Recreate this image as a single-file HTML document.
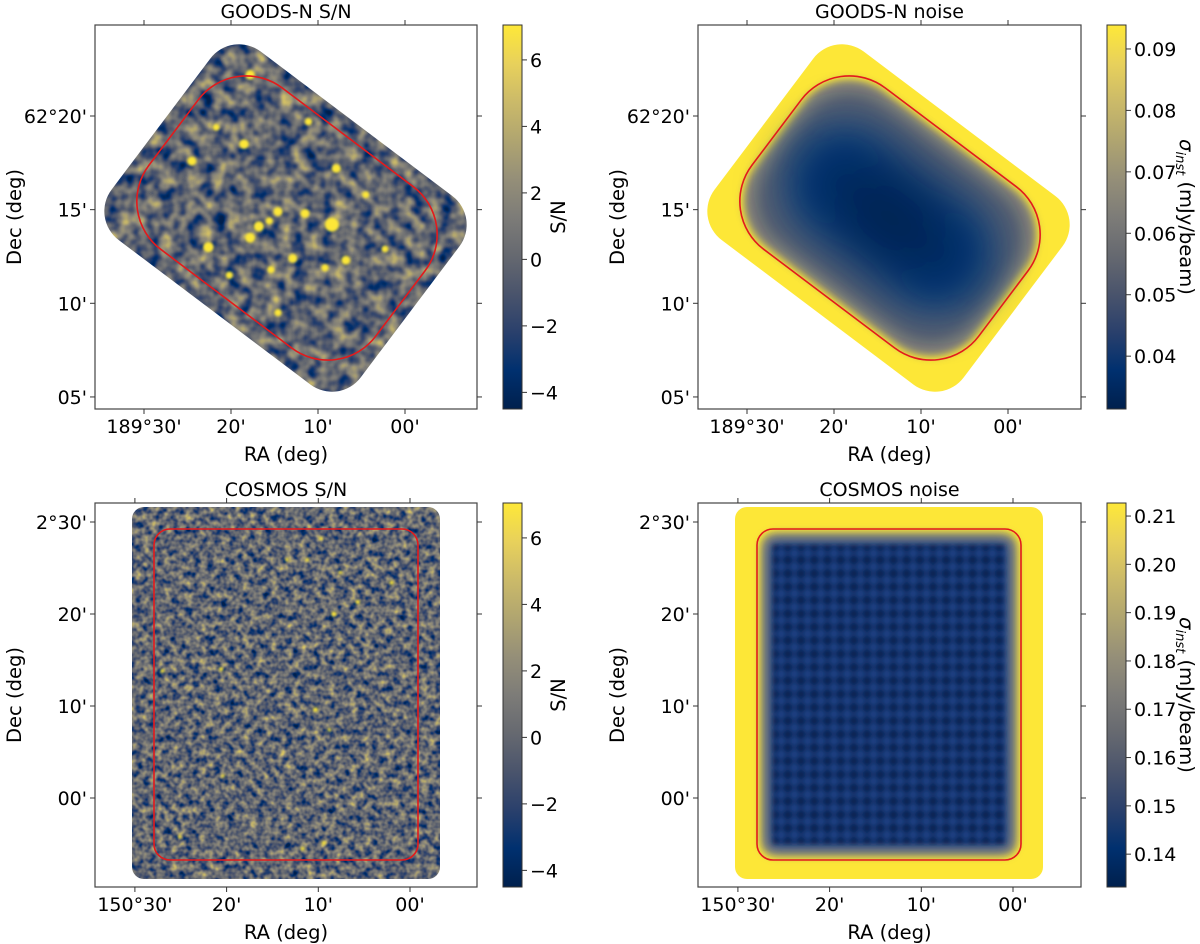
<!DOCTYPE html>
<html><head><meta charset="utf-8"><style>
html,body{margin:0;padding:0;background:#fff}
svg{display:block}
text{font-family:"DejaVu Sans","Liberation Sans",sans-serif;fill:#000}
</style></head><body>
<svg id="fig" width="1200" height="944" viewBox="0 0 1200 944" xmlns="http://www.w3.org/2000/svg">
<defs id="defs"></defs>
</svg>
<script>
// ---------- data ----------
const snTicks = [6, 4, 2, 0, -2, -4];
const snRange = [-4.5, 7.05];
const goodsNoiseTicks = [0.09, 0.08, 0.07, 0.06, 0.05, 0.04];
const goodsNoiseRange = [0.0314, 0.0939];
const cosmosNoiseTicks = [0.21, 0.20, 0.19, 0.18, 0.17, 0.16, 0.15, 0.14];
const cosmosNoiseRange = [0.1332, 0.2127];
const goodsRaTicks = [30, 20, 10, 0];
const goodsRaLabels = ["189°30'", "20'", "10'", "00'"];
const goodsDecTicks = [20, 15, 10, 5];
const goodsDecLabels = ["62°20'", "15'", "10'", "05'"];
const cosmosRaTicks = [30, 20, 10, 0];
const cosmosRaLabels = ["150°30'", "20'", "10'", "00'"];
const cosmosDecTicks = [30, 20, 10, 0];
const cosmosDecLabels = ["2°30'", "20'", "10'", "00'"];
// GOODS-N detected sources (arcmin offsets from 189°00', 62°00'), S/N
const goodsSrcRa  = [17.8,18.5,24.5,7.9,21.7,11.1,8.4,14.6,11.5,16.8,17.8,15.6,22.6,12.9,6.8,9.2,15.4,20.2,14.6,4.5,2.3];
const goodsSrcDec = [22.2,18.5,17.6,17.2,19.4,19.7,14.2,14.9,14.8,14.1,13.5,14.4,13.0,12.4,12.3,11.9,11.8,11.5,9.5,15.8,12.9];
const goodsSrcSN  = [12,12,11,11,7,8,20,11,11,13,13,8,13,11,11,8,8,8,8,7,7];
// COSMOS detected sources (arcmin offsets from 150°00', 2°00')
const cosmosSrcRa  = [8.3,10.3,20.6,2.0,5.7,9.4,11.7,13.4,11.2,9.7,7.6,27.0,25.1,20.4,8.8];
const cosmosSrcDec = [20.0,9.6,14.0,23.4,21.3,-4.9,-5.5,25.9,25.9,28.2,24.5,13.8,-4.2,2.4,7.4];
const cosmosSrcSN  = [10,9,8,8,8,8,7,6,6,6,6,7,6,6,6];

// ---------- helpers ----------
const NS = "http://www.w3.org/2000/svg";
const svg = document.getElementById('fig');
const defs = document.getElementById('defs');
function mk(tag, attrs, parent) {
  const e = document.createElementNS(NS, tag);
  for (const k in attrs) e.setAttribute(k, attrs[k]);
  (parent || svg).appendChild(e);
  return e;
}
const civStops = [[0,'#00204d'],[0.1,'#00306f'],[0.2,'#2a406c'],[0.3,'#4a546c'],[0.4,'#666970'],[0.5,'#7d7c78'],[0.6,'#958f78'],[0.7,'#b0a570'],[0.8,'#cbba69'],[0.9,'#e8d15b'],[1,'#fee838']];
function hex2rgb(h){return [parseInt(h.substr(1,2),16),parseInt(h.substr(3,2),16),parseInt(h.substr(5,2),16)];}
function civ(t){t=Math.max(0,Math.min(1,t));for(let i=1;i<civStops.length;i++){if(t<=civStops[i][0]){const a=civStops[i-1],b=civStops[i];const f=(t-a[0])/(b[0]-a[0]);const ca=hex2rgb(a[1]),cb=hex2rgb(b[1]);return ca.map((v,j)=>v+(cb[j]-v)*f);}}return hex2rgb(civStops[civStops.length-1][1]);}

const lg = mk('linearGradient',{id:'civ',x1:0,y1:1,x2:0,y2:0},defs);
civStops.forEach(s=>mk('stop',{offset:s[0],'stop-color':s[1]},lg));

function noiseFilter(id, freq, seed, gain) {
  const f = mk('filter',{id:id,x:0,y:0,width:1,height:1,'color-interpolation-filters':'sRGB'},defs);
  mk('feTurbulence',{type:'fractalNoise',baseFrequency:freq,numOctaves:2,seed:seed},f);
  mk('feColorMatrix',{type:'matrix',values:'1 0 0 0 0 1 0 0 0 0 1 0 0 0 0 0 0 0 0 1'},f);
  const ct = mk('feComponentTransfer',{},f);
  const R=[],G=[],B=[];
  for(let i=0;i<=40;i++){const v=i/40;const c=civ(0.39+(v-0.5)*gain);R.push((c[0]/255).toFixed(3));G.push((c[1]/255).toFixed(3));B.push((c[2]/255).toFixed(3));}
  mk('feFuncR',{type:'table',tableValues:R.join(' ')},ct);
  mk('feFuncG',{type:'table',tableValues:G.join(' ')},ct);
  mk('feFuncB',{type:'table',tableValues:B.join(' ')},ct);
}
noiseFilter('nzG','0.075',3,1.15);
noiseFilter('nzC','0.14',7,1.15);
const bl = (id,s)=>{const f=mk('filter',{id:id,x:'-30%',y:'-30%',width:'160%',height:'160%'},defs);mk('feGaussianBlur',{stdDeviation:s},f);};
bl('b2',1.2); bl('b8',8); bl('b20',20); bl('b3',2.5); bl('b4',4); bl('b6',6);
const rg = mk('radialGradient',{id:'gcore',cx:0.5,cy:0.5,r:0.5},defs);
mk('stop',{offset:0,'stop-color':'#00204d'},rg);
mk('stop',{offset:0.6,'stop-color':'#022a60'},rg);
mk('stop',{offset:1,'stop-color':'#093a7c'},rg);
const pat = mk('pattern',{id:'cgrid',width:13.2,height:13.4,patternUnits:'userSpaceOnUse',x:768,y:540},defs);
const prg = mk('radialGradient',{id:'cell',cx:0.5,cy:0.5,r:0.6},defs);
mk('stop',{offset:0,'stop-color':'#061a3e'},prg);
mk('stop',{offset:0.5,'stop-color':'#0b275c'},prg);
mk('stop',{offset:1,'stop-color':'#22478c'},prg);
mk('rect',{x:0,y:0,width:13.2,height:13.4,fill:'url(#cell)'},pat);

function goodsOuter(dx){return {x:285.5+dx-156,y:218-118,w:312,h:236,r:36,cx:285.5+dx,cy:218};}
function goodsRed(dx){return {x:287+dx-142,y:218-101,w:284,h:202,r:60,cx:287+dx,cy:218};}
function rrect(p,attrs,parent,rot){const a=Object.assign({x:p.x,y:p.y,width:p.w,height:p.h,rx:p.r},attrs);if(rot!==undefined)a.transform=`rotate(${rot} ${p.cx} ${p.cy})`;return mk('rect',a,parent);}

const panels = [
 {name:'goods-sn',title:'GOODS-N S/N',x0:95,x1:477,y0:25,y1:409,kind:'goods',cb:'sn'},
 {name:'goods-noise',title:'GOODS-N noise',x0:698,x1:1081,y0:25,y1:409,kind:'goods',cb:'gn'},
 {name:'cosmos-sn',title:'COSMOS S/N',x0:95,x1:477,y0:503,y1:887,kind:'cosmos',cb:'sn'},
 {name:'cosmos-noise',title:'COSMOS noise',x0:698,x1:1081,y0:503,y1:887,kind:'cosmos',cb:'cn'}
];
function goodsX(dx){return ra=>405+dx-ra*8.7;}
function goodsY(dec){return 116+(20-dec)*18.73;}
function cosmosX(dx){return ra=>410+dx-ra*9.17;}
function cosmosY(dec){return 798-dec*9.2;}
const TF=19, LF=19.5, TTF=19;

panels.forEach(P=>{
  const g = mk('g',{});
  
  
  const dx = P.x0-95;
  const img = mk('g',{},g);
  
  
  const clipId='clip-'+P.name;
  const cp = mk('clipPath',{id:clipId},defs);
  let xs, ys;
  if(P.kind==='goods'){
    xs=goodsX(dx); ys=goodsY;
    const o=goodsOuter(dx);
    rrect(o,{},cp,37);
    const red=goodsRed(dx);
    if(P.cb==='sn'){
      mk('rect',{x:P.x0,y:P.y0,width:P.x1-P.x0,height:P.y1-P.y0,filter:'url(#nzG)','clip-path':`url(#${clipId})`},img);
      const sg=mk('g',{filter:'url(#b2)','clip-path':`url(#${clipId})`},img);
      goodsSrcSN.forEach((s,i)=>{
        const c=mk('circle',{cx:xs(goodsSrcRa[i]),cy:ys(goodsSrcDec[i]),r:1.5+s*0.28,fill:'#fde737'},sg);
        
        
      });
    } else {
      const cg=mk('g',{'clip-path':`url(#${clipId})`},img);
      mk('rect',{x:P.x0,y:P.y0,width:P.x1-P.x0,height:P.y1-P.y0,fill:'#fde737'},cg);
      const inner={x:red.x+4,y:red.y+4,w:red.w-8,h:red.h-8,r:56,cx:red.cx,cy:red.cy};
      rrect(inner,{fill:'#8a8779',filter:'url(#b4)'},cg,37);
      const in2={x:red.x+14,y:red.y+14,w:red.w-28,h:red.h-28,r:50,cx:red.cx,cy:red.cy};
      rrect(in2,{fill:'#5a6070',filter:'url(#b8)'},cg,37);
      const core={x:red.cx-118,y:red.cy-62,w:236,h:124,r:60,cx:red.cx,cy:red.cy};
      rrect(core,{fill:'url(#gcore)',filter:'url(#b20)'},cg,37);
    }
    const rc=rrect(red,{fill:'none',stroke:'#e31a1c','stroke-width':1.6},img,37);
    
    
  } else {
    xs=cosmosX(dx); ys=cosmosY;
    mk('rect',{x:132+dx,y:507,width:308,height:372,rx:12},cp);
    if(P.cb==='sn'){
      mk('rect',{x:P.x0,y:P.y0,width:P.x1-P.x0,height:P.y1-P.y0,filter:'url(#nzC)','clip-path':`url(#${clipId})`},img);
      const sg=mk('g',{filter:'url(#b2)'},img);
      cosmosSrcSN.forEach((s,i)=>{
        const c=mk('circle',{cx:xs(cosmosSrcRa[i]),cy:ys(cosmosSrcDec[i]),r:0.6+s*0.2,fill:'#fde737'},sg);
        
        
      });
    } else {
      const cg=mk('g',{'clip-path':`url(#${clipId})`},img);
      mk('rect',{x:P.x0,y:P.y0,width:P.x1-P.x0,height:P.y1-P.y0,fill:'#fde737'},cg);
      mk('rect',{x:158+dx,y:533,width:256,height:323,rx:14,fill:'#8a8779',filter:'url(#b4)'},cg);
      mk('rect',{x:165+dx,y:540,width:242,height:309,rx:8,fill:'#2a4a86',filter:'url(#b6)'},cg);
      mk('rect',{x:170+dx,y:545,width:232,height:299,fill:'url(#cgrid)',filter:'url(#b3)'},cg);
    }
    const rc=mk('rect',{x:154+dx,y:529,width:264,height:331,rx:16,fill:'none',stroke:'#e31a1c','stroke-width':1.6},img);
    
    
  }
  const fr=mk('rect',{x:P.x0,y:P.y0,width:P.x1-P.x0,height:P.y1-P.y0,fill:'none',stroke:'#444','stroke-width':1.2},g);
  
  
  const t=mk('text',{x:(P.x0+P.x1)/2,y:P.y0-7,'text-anchor':'middle','font-size':TTF},g);
  t.textContent=P.title;
  
  
  const raT = P.kind==='goods'?goodsRaTicks:cosmosRaTicks;
  const raL = P.kind==='goods'?goodsRaLabels:cosmosRaLabels;
  const decT = P.kind==='goods'?goodsDecTicks:cosmosDecTicks;
  const decL = P.kind==='goods'?goodsDecLabels:cosmosDecLabels;
  raT.forEach((v,i)=>{
    const x=xs(v);
    mk('line',{x1:x,x2:x,y1:P.y1,y2:P.y1+5,stroke:'#333','stroke-width':1},g);
    mk('line',{x1:x,x2:x,y1:P.y0,y2:P.y0-5,stroke:'#333','stroke-width':1},g);
    const l=mk('text',{x:x,y:P.y1+24,'text-anchor':'middle','font-size':TF},g);
    l.textContent=raL[i];
    
    
  });
  decT.forEach((v,i)=>{
    const y=ys(v);
    mk('line',{x1:P.x0,x2:P.x0-5,y1:y,y2:y,stroke:'#333','stroke-width':1},g);
    mk('line',{x1:P.x1,x2:P.x1+5,y1:y,y2:y,stroke:'#333','stroke-width':1},g);
    const l=mk('text',{x:P.x0-8,y:y+7,'text-anchor':'end','font-size':TF},g);
    l.textContent=decL[i];
    
    
  });
  const xl=mk('text',{x:(P.x0+P.x1)/2,y:P.y1+52,'text-anchor':'middle','font-size':LF},g);
  xl.textContent='RA (deg)';
  
  
  const yc=(P.y0+P.y1)/2, yx=P.x0-74;
  const yl=mk('text',{x:yx,y:yc,'text-anchor':'middle','font-size':LF,transform:`rotate(-90 ${yx} ${yc})`},g);
  yl.textContent='Dec (deg)';
  
  
  const cbx=P.x1+26, cbw=19;
  const cbg=mk('g',{},g);
  
  
  mk('rect',{x:cbx,y:P.y0,width:cbw,height:P.y1-P.y0,fill:'url(#civ)',stroke:'#333','stroke-width':1},cbg);
  let ticks,range,fmt;
  if(P.cb==='sn'){ticks=snTicks;range=snRange;fmt=v=>v<0?'\u2212'+Math.abs(v):String(v);}
  else if(P.cb==='gn'){ticks=goodsNoiseTicks;range=goodsNoiseRange;fmt=v=>v.toFixed(2);}
  else {ticks=cosmosNoiseTicks;range=cosmosNoiseRange;fmt=v=>v.toFixed(2);}
  const cy=v=>P.y1-(v-range[0])/(range[1]-range[0])*(P.y1-P.y0);
  ticks.forEach(v=>{
    const y=cy(v);
    mk('line',{x1:cbx+cbw,x2:cbx+cbw+5,y1:y,y2:y,stroke:'#333','stroke-width':1},cbg);
    const l=mk('text',{x:cbx+cbw+8,y:y+7,'font-size':TF},cbg);
    l.textContent=fmt(v);
    
    
  });
  if(P.cb==='sn'){
    const lx=cbx+62;
    const l=mk('text',{x:lx,y:yc,'text-anchor':'middle','font-size':LF,transform:`rotate(-90 ${lx} ${yc})`},cbg);
    l.textContent='S/N';
    
    
  } else {
    const lx=cbx+73;
    const l=mk('text',{x:lx,y:yc,'text-anchor':'middle','font-size':LF,transform:`rotate(90 ${lx} ${yc})`},cbg);
    
    
    const s1=mk('tspan',{'font-style':'italic'},l); s1.textContent='σ';
    const s2=mk('tspan',{'font-style':'italic','font-size':13,dy:4},l); s2.textContent='inst';
    const s3=mk('tspan',{dy:-4},l); s3.textContent=' (mJy/beam)';
  }
});
</script>
</body></html>
